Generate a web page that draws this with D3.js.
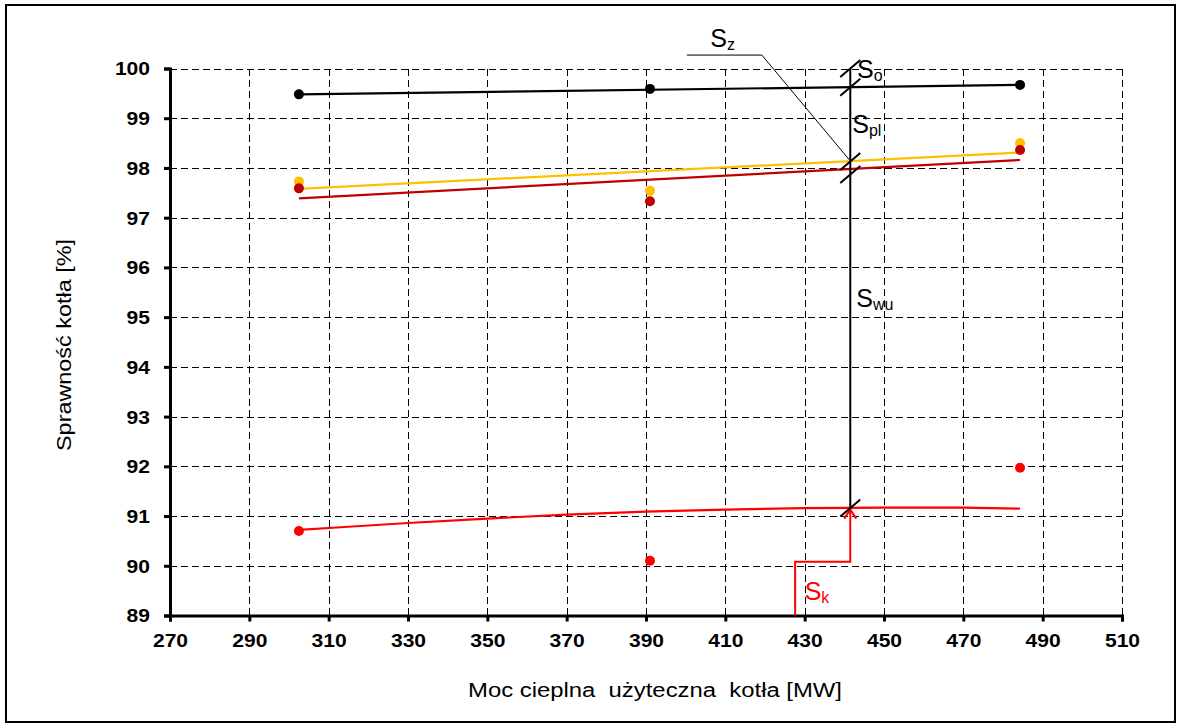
<!DOCTYPE html>
<html lang="pl">
<head>
<meta charset="utf-8">
<title>Sprawność kotła</title>
<style>
  body { margin: 0; background: #fff; }
  svg text { font-family: "Liberation Sans", Arial, sans-serif; }
</style>
</head>
<body>
<div id="chart"></div>
<script src="https://d3js.org/d3.v7.min.js"></script>
<script>
// ---- data ----
const xTicks = [270, 290, 310, 330, 350, 370, 390, 410, 430, 450, 470, 490, 510];
const yTicks = [89, 90, 91, 92, 93, 94, 95, 96, 97, 98, 99, 100];

const loadMW = [302.5, 391, 484.3];
const effBlack = [99.48, 99.59, 99.67];   // black points
const effYellow = [97.73, 97.54, 98.50];  // yellow points
const effDarkRed = [97.59, 97.33, 98.36]; // dark red points
const effRed = [90.70, 90.10, 91.97];     // red points

// trend lines (start / end)
const trendBlack = [[302.5, 99.48], [484.3, 99.67]];
const trendYellow = [[302.5, 97.58], [484.3, 98.31]];
const trendDarkRed = [[302.5, 97.39], [484.3, 98.16]];
const trendRed = [[302.5, 90.72], [310, 90.76], [330, 90.86], [350, 90.95], [370, 91.03],
                  [390, 91.09], [410, 91.13], [430, 91.16], [450, 91.17], [470, 91.17], [484.3, 91.15]];

// annotation
const markMW = 441.5;
const slashAt = [100, 99.625, 98.13, 97.87, 91.16];
const szLeader = [[400.3, 100.27], [419.2, 100.27], [441.3, 98.16]];
const skPath = [[427.6, 89], [427.6, 90.08], [441.5, 90.08], [441.5, 91.13]];
const labels = [
  { s: "z", x: 406.2, y: 100.43, c: "#000" },
  { s: "o", x: 443.2, y: 99.81, c: "#000" },
  { s: "pl", x: 442.0, y: 98.70, c: "#000" },
  { s: "wu", x: 443.0, y: 95.20, c: "#000" },
  { s: "k", x: 430.0, y: 89.31, c: "#ff0000" }
];

// ---- drawing ----
const W = 1181, H = 728;
const svg = d3.select("#chart").append("svg").attr("width", W).attr("height", H);

svg.append("rect").attr("x", 6).attr("y", 5).attr("width", 1169).attr("height", 717)
  .attr("fill", "none").attr("stroke", "#000").attr("stroke-width", 2);

const x = d3.scaleLinear().domain([270, 510]).range([170, 1122]);
const y = d3.scaleLinear().domain([89, 100]).range([615.5, 68.5]);

// grid
const grid = svg.append("g").attr("stroke", "#000").attr("stroke-width", 1)
  .attr("stroke-dasharray", "7,4").attr("shape-rendering", "crispEdges");
grid.selectAll(".gx").data(xTicks.slice(1)).join("line")
  .attr("x1", d => Math.round(x(d)) + 0.5).attr("x2", d => Math.round(x(d)) + 0.5)
  .attr("y1", y(100)).attr("y2", y(89));
grid.selectAll(".gy").data(yTicks.slice(1)).join("line")
  .attr("y1", d => Math.round(y(d)) + 0.5).attr("y2", d => Math.round(y(d)) + 0.5)
  .attr("x1", x(270)).attr("x2", x(510));

// axes (labels a little wider than tall, like the original)
const sx = 1.17;
const xAxis = svg.append("g").attr("transform", `translate(0,${y(89)})`)
  .call(d3.axisBottom(x).tickValues(xTicks).tickSize(6).tickPadding(13));
const yAxis = svg.append("g").attr("transform", `translate(${x(270)},0)`)
  .call(d3.axisLeft(y).tickValues(yTicks).tickSize(6).tickPadding(12));
[xAxis, yAxis].forEach(a => {
  a.select(".domain").attr("stroke-width", 3);
  a.selectAll(".tick line").attr("stroke-width", 3);
  a.selectAll(".tick text").attr("font-size", 18).attr("font-weight", "bold")
    .attr("font-family", "'Liberation Sans', Arial, sans-serif").attr("fill", "#000")
    .attr("transform", `scale(${sx},1)`);
});
yAxis.selectAll(".tick text").attr("x", -20 / sx).attr("dy", "0.36em");

// axis titles
svg.append("text").attr("x", 655).attr("y", 697).attr("text-anchor", "middle")
  .attr("font-size", 20).attr("xml:space", "preserve")
  .attr("textLength", 374).attr("lengthAdjust", "spacingAndGlyphs")
  .text("Moc cieplna  użyteczna  kotła [MW]");
svg.append("text").attr("transform", "translate(71,345) rotate(-90)")
  .attr("text-anchor", "middle").attr("font-size", 21)
  .attr("textLength", 212).attr("lengthAdjust", "spacingAndGlyphs")
  .text("Sprawność kotła [%]");

// series
const line = d3.line().x(d => x(d[0])).y(d => y(d[1]));
const series = [
  { trend: trendBlack, pts: effBlack, c: "#000000" },
  { trend: trendYellow, pts: effYellow, c: "#ffc000" },
  { trend: trendDarkRed, pts: effDarkRed, c: "#c00000" },
  { trend: trendRed, pts: effRed, c: "#ff0000" }
];
series.forEach(s => {
  svg.append("path").datum(s.trend).attr("d", line)
    .attr("fill", "none").attr("stroke", s.c).attr("stroke-width", 2.2);
});
series.forEach(s => {
  svg.append("g").selectAll("circle").data(s.pts).join("circle")
    .attr("cx", (d, i) => x(loadMW[i])).attr("cy", d => y(d))
    .attr("r", 5).attr("fill", s.c);
});

// annotation: vertical marker
svg.append("line").attr("x1", x(markMW)).attr("x2", x(markMW))
  .attr("y1", y(slashAt[0])).attr("y2", y(slashAt[4]))
  .attr("stroke", "#000").attr("stroke-width", 2);

// Sk red path with arrow
svg.append("path").datum(skPath).attr("d", line)
  .attr("fill", "none").attr("stroke", "#ff0000").attr("stroke-width", 2);
const tip = skPath[skPath.length - 1];
svg.append("path")
  .attr("d", `M${x(tip[0]) - 6},${y(tip[1]) + 9}L${x(tip[0])},${y(tip[1])}L${x(tip[0]) + 6},${y(tip[1]) + 9}`)
  .attr("fill", "none").attr("stroke", "#ff0000").attr("stroke-width", 2);

// slashes
svg.append("g").selectAll("line").data(slashAt).join("line")
  .attr("x1", x(markMW) - 10).attr("x2", x(markMW) + 10)
  .attr("y1", d => y(d) + 8.5).attr("y2", d => y(d) - 8.5)
  .attr("stroke", "#000").attr("stroke-width", 2);

// Sz leader
svg.append("path").datum(szLeader).attr("d", line)
  .attr("fill", "none").attr("stroke", "#000").attr("stroke-width", 1);

// S labels
labels.forEach(l => {
  const t = svg.append("text").attr("x", x(l.x)).attr("y", y(l.y))
    .attr("font-size", 25).attr("fill", l.c);
  t.append("tspan").text("S");
  t.append("tspan").attr("font-size", 16).attr("dy", 3).text(l.s);
});
</script>
</body>
</html>
